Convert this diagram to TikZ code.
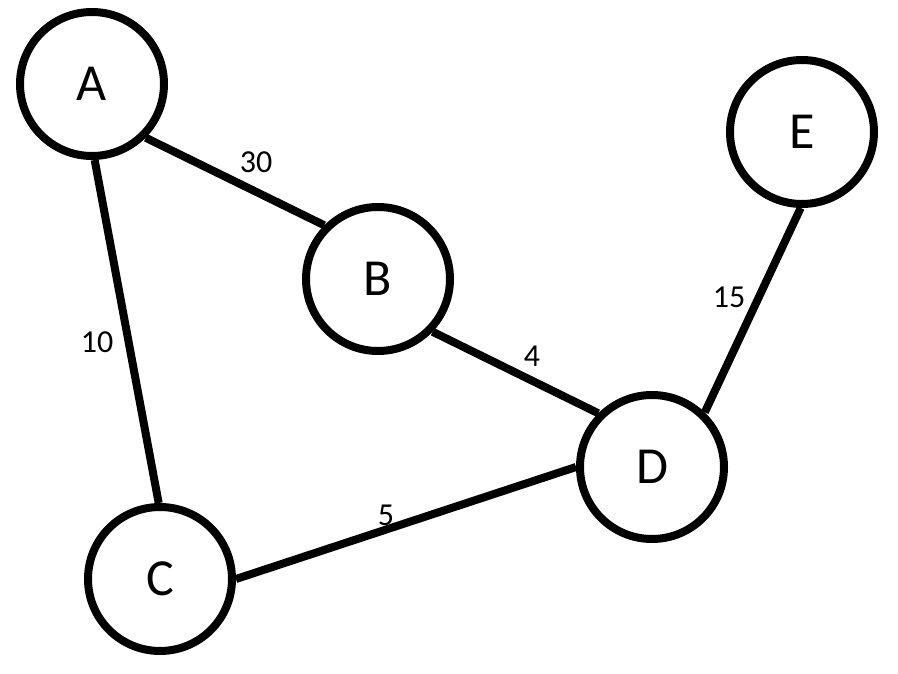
\documentclass[tikz,border=0pt]{standalone}
\usepackage{fontspec}
\setmainfont{Carlito}
\begin{document}
\begin{tikzpicture}[x=1pt,y=-1pt,
  vertex/.style={circle,draw=black,line width=8pt,minimum size=144pt,inner sep=0pt,font=\fontsize{52}{60}\selectfont},
  edge/.style={draw=black,line width=8pt},
  weight/.style={inner sep=0pt,font=\fontsize{32}{38}\selectfont}]
\useasboundingbox (0,0) rectangle (898,674);
\node[vertex] (A) at (92,84) {A};
\node[vertex] (B) at (378,279) {B};
\node[vertex] (C) at (160,579) {C};
\node[vertex] (D) at (652,467) {D};
\node[vertex] (E) at (802,132) {E};
\draw[edge] (A.-45) -- (B.135.5);
\draw[edge] (A.-88) -- (C.91.5);
\draw[edge] (B.-44) -- (D.135.5);
\draw[edge] (C.0) -- (D.180);
\draw[edge] (D.46) -- (E.-91.5);
\node[weight] (w30) at (256,162) {30};
\node[weight] (w10) at (97,342) {10};
\node[weight] (w4) at (532,356) {4};
\node[weight] (w5) at (386,515) {5};
\node[weight] (w15) at (729,297) {15};
\end{tikzpicture}
\end{document}
